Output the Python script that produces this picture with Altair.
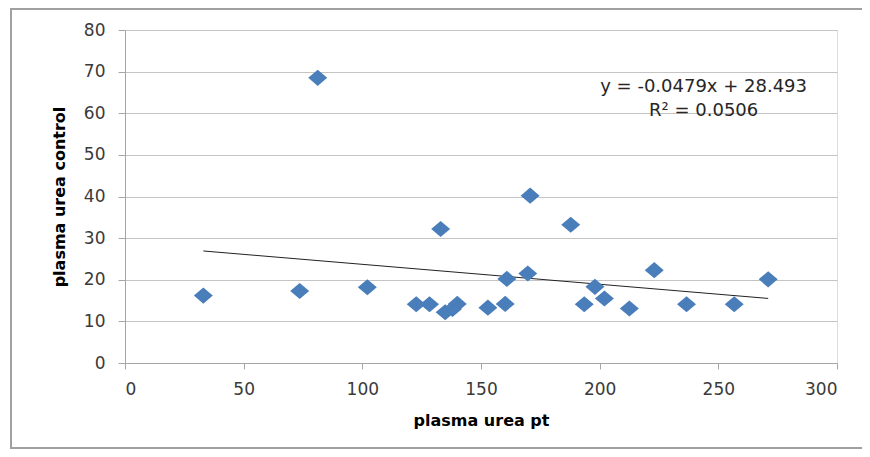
import altair as alt
import pandas as pd

# Data
pt = [33.0, 73.6, 81.2, 102.1, 122.7, 128.3, 133.0, 134.9, 138.0, 140.0, 152.9,
      160.2, 160.9, 169.7, 170.7, 187.8, 193.5, 198.0, 202.0, 212.5, 223.0,
      236.6, 256.7, 271.0]
control = [16.2, 17.3, 68.5, 18.2, 14.1, 14.1, 32.2, 12.2, 13.0, 14.2, 13.3,
           14.2, 20.2, 21.5, 40.2, 33.2, 14.1, 18.3, 15.5, 13.1, 22.3,
           14.1, 14.1, 20.1]

slope = -0.0479
intercept = 28.493
eq_lines = ["y = -0.0479x + 28.493", "R² = 0.0506"]
eq_x = [243.8, 243.8]
eq_y = [66.3, 60.5]

x_ticks = [0, 50, 100, 150, 200, 250, 300]
y_ticks = [0, 10, 20, 30, 40, 50, 60, 70, 80]

pts = pd.DataFrame({"pt": pt, "control": control})
xmin, xmax = min(pt), max(pt)
trend = pd.DataFrame({"pt": [xmin, xmax],
                      "control": [slope * xmin + intercept, slope * xmax + intercept]})
eq = pd.DataFrame({"pt": eq_x, "control": eq_y, "label": eq_lines})

W, H = 712, 333
FONT = "DejaVu Sans"
FRAME = "#a0a0a0"

xscale = alt.Scale(domain=[0, 300], nice=False)
yscale = alt.Scale(domain=[0, 80], nice=False)

xaxis = alt.Axis(title="plasma urea pt", values=x_ticks, grid=False,
                 tickSize=6, tickColor="#a6a6a6", domainColor="#a6a6a6",
                 labelFontSize=17, labelColor="#3a3a3a", labelFont=FONT,
                 labelPadding=12, titleFont=FONT, titleFontSize=16,
                 titleFontWeight="bold", titleColor="#000000", titlePadding=15)
yaxis = alt.Axis(title="plasma urea control", values=y_ticks, grid=True,
                 gridColor="#c4c4c4", gridWidth=1,
                 tickSize=7, tickColor="#a6a6a6", domainColor="#a6a6a6",
                 labelFontSize=17, labelColor="#3a3a3a", labelFont=FONT,
                 labelPadding=13, titleFont=FONT, titleFontSize=16,
                 titleFontWeight="bold", titleColor="#000000", titlePadding=16)

one = pd.DataFrame({"k": [0]})
frame_left = alt.Chart(one).mark_rule(color=FRAME, strokeWidth=2).encode(
    x=alt.value(-114), y=alt.value(-21), y2=alt.value(H + 86))
frame_top = alt.Chart(one).mark_rule(color=FRAME, strokeWidth=2).encode(
    y=alt.value(-21), x=alt.value(-115), x2=alt.value(W + 25))
frame_bottom = alt.Chart(one).mark_rule(color=FRAME, strokeWidth=2).encode(
    y=alt.value(H + 85), x=alt.value(-115), x2=alt.value(W + 25))

points = alt.Chart(pts).mark_point(
    shape="M-1,0L0,-0.85L1,0L0,0.85Z", filled=True, size=360,
    color="#4a7ebb", opacity=1
).encode(
    x=alt.X("pt:Q", scale=xscale, axis=xaxis),
    y=alt.Y("control:Q", scale=yscale, axis=yaxis),
)

line = alt.Chart(trend).mark_line(color="#222222", strokeWidth=1).encode(
    x=alt.X("pt:Q", scale=xscale), y=alt.Y("control:Q", scale=yscale)
)

text = alt.Chart(eq).mark_text(font=FONT, fontSize=18, color="#262626",
                               align="center", baseline="middle").encode(
    x=alt.X("pt:Q", scale=xscale), y=alt.Y("control:Q", scale=yscale),
    text="label:N"
)

chart = alt.layer(frame_left, frame_top, frame_bottom, line, points, text).properties(
    width=W, height=H,
    autosize=alt.AutoSizeParams(type="none"),
    padding={"left": 117, "top": 22, "right": 25, "bottom": 86},
).configure_view(stroke=None).configure(background="white")

chart.save("out.html", embed_options={"renderer": "svg", "actions": False})
